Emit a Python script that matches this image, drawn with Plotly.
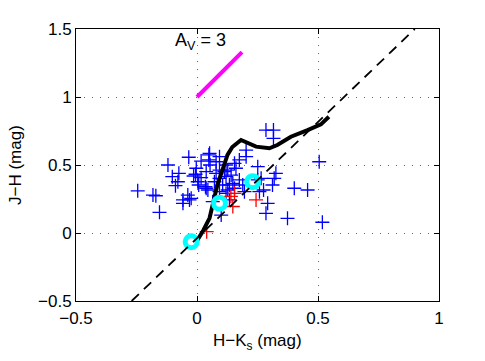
import plotly.graph_objs as go

# field stars (blue)
blue_x = [-0.245, -0.182, -0.170, -0.155, -0.120, -0.102, -0.075, -0.079, -0.089,
          -0.058, -0.058, -0.031, -0.024, -0.034, -0.038,
          0.017, 0.049, 0.049, 0.054, 0.093, 0.079, -0.003, -0.006, -0.014, 0.038,
          0.017, 0.079, 0.093, 0.072, 0.035, 0.120, 0.120, 0.106, 0.007, 0.038,
          0.045, 0.065, 0.100, 0.113, 0.127, 0.141, 0.161, 0.148, 0.175, 0.189,
          0.134, 0.155, 0.127, 0.134, 0.155, 0.175, 0.203, 0.203, 0.251, 0.265,
          0.251, 0.196, 0.258, 0.275, 0.285, 0.316, 0.316, 0.326, 0.319, 0.312,
          0.505, 0.402, 0.457, 0.292, 0.285, 0.374, 0.518,
          0.052, 0.003, 0.093, 0.120, 0.093]
blue_y = [0.310, 0.279, 0.274, 0.152, 0.500, 0.414, 0.439, 0.377, 0.348,
          0.243, 0.218, 0.243, 0.255, 0.557, 0.279,
          0.529, 0.574, 0.537, 0.500, 0.561, 0.524, 0.476, 0.432, 0.419, 0.451,
          0.407, 0.439, 0.402, 0.377, 0.340, 0.500, 0.414, 0.353, 0.353, 0.329,
          0.316, 0.230, 0.132, 0.451, 0.463, 0.426, 0.476, 0.365, 0.390, 0.353,
          0.353, 0.329, 0.316, 0.243, 0.512, 0.537, 0.561, 0.610, 0.488, 0.402,
          0.390, 0.304, 0.304, 0.316, 0.757, 0.757, 0.696, 0.439, 0.402, 0.353,
          0.524, 0.329, 0.316, 0.218, 0.145, 0.108, 0.079,
          0.586, 0.377, 0.463, 0.292, 0.304]

# red stars
red_x = [0.155, 0.244, 0.148, 0.140, 0.040]
red_y = [0.292, 0.243, 0.195, 0.270, 0.010]

# intrinsic locus (black)
locus_x = [0.002, 0.027, 0.052, 0.064, 0.084, 0.105, 0.126, 0.146, 0.182, 0.244,
           0.299, 0.332, 0.388, 0.457, 0.512, 0.545]
locus_y = [-0.051, 0.022, 0.110, 0.206, 0.353, 0.463, 0.574, 0.632, 0.684, 0.635,
           0.623, 0.647, 0.708, 0.757, 0.799, 0.855]

# cyan model points
cyan_x = [-0.024, 0.093, 0.230]
cyan_y = [-0.064, 0.218, 0.377]

# reddening line (dashed)
dash_x = [-0.27, 0.90]
dash_y = [-0.5, 1.5]

# A_V = 3 vector
av_x = [0.0, 0.186]
av_y = [1.0, 1.33]

FONT = 'Liberation Sans, Arial, sans-serif'

fig = go.Figure()
fig.add_trace(go.Scatter(x=blue_x, y=blue_y, mode='markers',
                         marker=dict(symbol='cross-thin-open', size=10, color='#0000ff',
                                     line=dict(color='#0000ff', width=1.3))))
fig.add_trace(go.Scatter(x=red_x, y=red_y, mode='markers',
                         marker=dict(symbol='cross-thin-open', size=10, color='#ff0000',
                                     line=dict(color='#ff0000', width=1.3))))
fig.add_trace(go.Scatter(x=locus_x, y=locus_y, mode='lines',
                         line=dict(color='black', width=4)))
fig.add_trace(go.Scatter(x=cyan_x, y=cyan_y, mode='markers',
                         marker=dict(symbol='circle-open', size=12, color='#00ffff',
                                     line=dict(color='#00ffff', width=5))))
fig.add_trace(go.Scatter(x=dash_x, y=dash_y, mode='lines',
                         line=dict(color='black', width=1.8, dash='10px,7px')))
fig.add_trace(go.Scatter(x=av_x, y=av_y, mode='lines',
                         line=dict(color='#ff00ff', width=4)))

fig.add_annotation(x=0.015, y=1.41, text='A<sub>V</sub> = 3', showarrow=False,
                   font=dict(size=18, color='black', family=FONT))

# axis titles placed by hand, as in the original
fig.add_annotation(xref='paper', yref='paper', x=0.5, y=0, yanchor='top', yshift=-28,
                   text='H\u2212K<sub>s</sub> (mag)', showarrow=False,
                   font=dict(size=17, color='black', family=FONT))
fig.add_annotation(xref='paper', yref='paper', x=0, y=0.5, xanchor='center', xshift=-61,
                   textangle=-90, text='J\u2212H (mag)', showarrow=False,
                   font=dict(size=17, color='black', family=FONT))

axis_common = dict(showline=True, linecolor='black', linewidth=1, mirror='ticks',
                   ticks='inside', ticklen=5, tickcolor='black', automargin=False,
                   showgrid=True, gridcolor='#666666', griddash='1px,7px', gridwidth=1,
                   zeroline=False, tickfont=dict(size=17, color='black', family=FONT))

fig.update_layout(
    width=485, height=361,
    margin=dict(l=75.5, r=45.5, t=29, b=60),
    paper_bgcolor='white', plot_bgcolor='white',
    showlegend=False,
    font=dict(family=FONT, color='black'),
    xaxis=dict(range=[-0.5, 1], tickvals=[-0.5, 0, 0.5, 1],
               ticktext=['\u22120.5', '0', '0.5', '1'], ticklabelstandoff=2,
               **axis_common),
    yaxis=dict(range=[-0.5, 1.5], tickvals=[-0.5, 0, 0.5, 1, 1.5],
               ticktext=['\u22120.5', '0', '0.5', '1', '1.5'],
               **axis_common),
)

# drop the default page margin so the figure sits at the window corner
fig.write_html("out.html", config={'displayModeBar': False},
               post_script="document.body.style.margin='0';")
